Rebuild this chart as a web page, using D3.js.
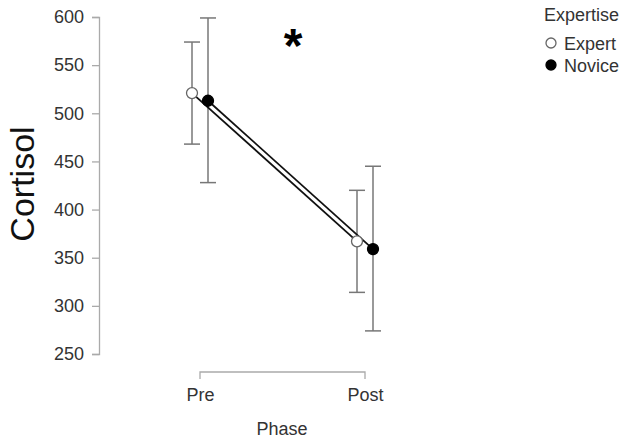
<!DOCTYPE html>
<html>
<head>
<meta charset="utf-8">
<script src="https://cdn.jsdelivr.net/npm/d3@7"></script>
<style>
  body { margin: 0; background: #fff; }
  text { font-family: "Liberation Sans", Arial, sans-serif; }
</style>
</head>
<body>
<script>
const phases = ["Pre", "Post"]
const groups = ["Expert", "Novice"]
const expertMean = [521, 367]
const expertLow = [468, 314]
const expertHigh = [574, 420]
const noviceMean = [513, 359]
const noviceLow = [428, 274]
const noviceHigh = [599, 445]
const yTicks = [250, 300, 350, 400, 450, 500, 550, 600]

const width = 630, height = 443
const fs = "18px"

const svg = d3.select("body").append("svg")
    .attr("width", width)
    .attr("height", height)

const y = d3.scaleLinear().domain([250, 600]).range([354, 17])
const x = d3.scalePoint().domain(phases).range([200, 365])
const dodge = d3.scalePoint().domain(groups).range([-8, 8])

// y axis
const yAxis = svg.append("g")
    .attr("transform", "translate(99,0)")
    .call(d3.axisLeft(y).tickValues(yTicks).tickSize(7).tickPadding(8))
yAxis.select(".domain").attr("stroke", "#aaa").attr("stroke-width", 1.3)
yAxis.selectAll(".tick line").attr("stroke", "#aaa").attr("stroke-width", 1.3)
yAxis.selectAll(".tick text")
    .attr("fill", "#333")
    .style("font-size", fs)

// x axis (bracket style)
const xAxis = svg.append("g")
    .attr("transform", "translate(0,372)")
    .call(d3.axisBottom(x).tickSize(0).tickPadding(16))
xAxis.select(".domain")
    .attr("d", "M" + x("Pre") + ",7V0H" + x("Post") + "V7")
    .attr("stroke", "#aaa").attr("stroke-width", 1.3)
xAxis.selectAll(".tick text")
    .attr("fill", "#333")
    .style("font-size", fs)

svg.append("text")
    .attr("x", 282).attr("y", 435)
    .attr("text-anchor", "middle")
    .attr("fill", "#333")
    .style("font-size", fs)
    .text("Phase")

svg.append("text")
    .attr("transform", "translate(34,184) rotate(-90)")
    .attr("text-anchor", "middle")
    .attr("fill", "#111")
    .style("font-size", "34px")
    .text("Cortisol")

const series = [
  {name: "Expert", mean: expertMean, low: expertLow, high: expertHigh, fill: "#fff"},
  {name: "Novice", mean: noviceMean, low: noviceLow, high: noviceHigh, fill: "#000"}
]

// error bars
series.forEach(s => {
  const g = svg.append("g")
  phases.forEach((p, i) => {
    const cx = x(p) + dodge(s.name)
    g.append("line")
        .attr("x1", cx).attr("x2", cx)
        .attr("y1", y(s.low[i])).attr("y2", y(s.high[i]))
        .attr("stroke", "#777").attr("stroke-width", 1.5)
    ;[s.low[i], s.high[i]].forEach(v => {
      g.append("line")
          .attr("x1", cx - 8).attr("x2", cx + 8)
          .attr("y1", y(v)).attr("y2", y(v))
          .attr("stroke", "#777").attr("stroke-width", 1.5)
    })
  })
})

// lines
const line = d3.line()
series.forEach(s => {
  const pts = phases.map((p, i) => [x(p) + dodge(s.name), y(s.mean[i])])
  svg.append("path")
      .attr("d", line(pts))
      .attr("fill", "none")
      .attr("stroke", "#111")
      .attr("stroke-width", 1.8)
})

// points
series.forEach(s => {
  svg.selectAll(null)
      .data(phases)
    .enter().append("circle")
      .attr("cx", p => x(p) + dodge(s.name))
      .attr("cy", (p, i) => y(s.mean[i]))
      .attr("r", 5.5)
      .attr("fill", s.fill)
      .attr("stroke", s.name == "Expert" ? "#666" : "#000")
      .attr("stroke-width", 1.3)
})

// significance marker
svg.append("text")
    .attr("x", 293).attr("y", 62)
    .attr("text-anchor", "middle")
    .attr("fill", "#000")
    .style("font-size", "48px")
    .style("font-weight", "bold")
    .text("*")

// legend
const legend = svg.append("g")
svg.append("text")
    .attr("x", 544).attr("y", 21)
    .attr("fill", "#333")
    .style("font-size", fs)
    .text("Expertise")
series.forEach((s, i) => {
  legend.append("circle")
      .attr("cx", 551).attr("cy", 43 + i * 22)
      .attr("r", 5)
      .attr("fill", s.fill)
      .attr("stroke", s.name == "Expert" ? "#666" : "#000")
      .attr("stroke-width", 1.3)
  legend.append("text")
      .attr("x", 564).attr("y", 49.5 + i * 22)
      .attr("fill", "#333")
      .style("font-size", fs)
      .text(s.name)
})
</script>
</body>
</html>
